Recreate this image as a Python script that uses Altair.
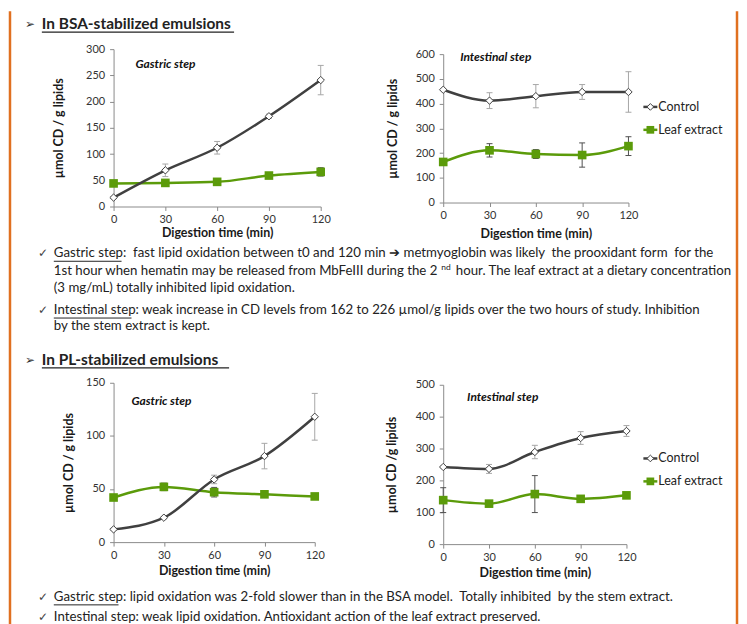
import altair as alt
import pandas as pd

# ---------------- data ----------------
time = [0, 30, 60, 90, 120]
series_names = ["Control", "Leaf extract"]

bsa_gastric_control = [17, 69, 112, 172, 241]
bsa_gastric_control_err = [2, 12, 12, 4, 28]
bsa_gastric_leaf = [44, 45, 47, 59, 66]
bsa_gastric_leaf_err = [1, 2, 2, 3, 8]

bsa_intestinal_control = [456, 412, 430, 447, 447]
bsa_intestinal_control_err = [3, 32, 47, 30, 82]
bsa_intestinal_leaf = [164, 211, 196, 192, 228]
bsa_intestinal_leaf_err = [4, 27, 18, 49, 38]

pl_gastric_control = [12, 23, 59, 81, 118]
pl_gastric_control_err = [1, 1, 4, 12, 22]
pl_gastric_leaf = [42, 52, 47, 45, 43]
pl_gastric_leaf_err = [1, 3.5, 4.5, 1, 1]

pl_intestinal_control = [242, 236, 289, 333, 355]
pl_intestinal_control_err = [3, 14, 21, 20, 17]
pl_intestinal_leaf = [138, 127, 157, 142, 153]
pl_intestinal_leaf_err = [39, 3, 58, 3, 3]

NB = "\u00a0"
header_bsa = "In BSA-stabilized emulsions"
header_pl = "In PL-stabilized emulsions"
bsa_l1 = "Gastric step: " + NB + "fast lipid oxidation between t0 and 120 min \u2794 metmyoglobin was likely " + NB + "the prooxidant form " + NB + "for the"
bsa_l2a = "1st hour when hematin may be released from MbFeIII during the 2"
bsa_l2sup = "nd"
bsa_l2b = "hour. The leaf extract at a dietary concentration"
bsa_l3 = "(3 mg/mL) totally inhibited lipid oxidation."
bsa_l4 = "Intestinal step: weak increase in CD levels from 162 to 226 \u00b5mol/g lipids over the two hours of study. Inhibition"
bsa_l5 = "by the stem extract is kept."
pl_l1 = "Gastric step: lipid oxidation was 2-fold slower than in the BSA model. " + NB + "Totally inhibited " + NB + "by the stem extract."
pl_l2 = "Intestinal step: weak lipid oxidation. Antioxidant action of the leaf extract preserved."

# ---------------- style ----------------
FONT = "Lato"
CTRL = "#404040"
LEAF = "#5b9b0a"
CTRL_ERR = "#a6a6a6"
LEAF_ERR = "#505050"
ORANGE = "#e07020"
TEXT = "#222222"
BODY = 13.3
ONE = pd.DataFrame({"a": [0]})


def panel_df(ctrl, ctrl_err, leaf, leaf_err):
    rows = []
    for name, vals, errs in [(series_names[0], ctrl, ctrl_err), (series_names[1], leaf, leaf_err)]:
        for t, v, e in zip(time, vals, errs):
            rows.append({"time": t, "series": name, "value": v, "lo": v - e, "hi": v + e})
    return pd.DataFrame(rows)


def txt(s, x, y, size=BODY, weight="normal", style="normal", color=TEXT, font=FONT, align="left"):
    return alt.Chart(ONE).mark_text(
        text=s, font=font, fontSize=size, fontWeight=weight, fontStyle=style,
        color=color, align=align, baseline="middle"
    ).encode(x=alt.value(x), y=alt.value(y))


def hline(x1, x2, y, color=TEXT, width=1):
    return alt.Chart(ONE).mark_rule(color=color, strokeWidth=width).encode(
        x=alt.value(x1), x2=alt.value(x2), y=alt.value(y))


def vline(x, y1, y2, color=ORANGE, width=2.5):
    return alt.Chart(ONE).mark_rule(color=color, strokeWidth=width).encode(
        x=alt.value(x), y=alt.value(y1), y2=alt.value(y2))


def panel(df, ymax, ystep, ytitle, step_label, step_xy, w, h, top, ytitle_x, xtitle_y, legend_xy=None):
    # plot area is h tall; the y scale occupies pixels [top, h]
    xscale = alt.Scale(domain=[0, 120], nice=False, zero=False, padding=0)
    yscale = alt.Scale(domain=[0, ymax], nice=False, range=[h, top], padding=0)
    xaxis = alt.Axis(values=time, title="Digestion time (min)", labelFlush=False, grid=False,
                     tickSize=4, labelPadding=3, titleX=w / 2, titleY=xtitle_y,
                     titleAlign="center", titleBaseline="middle", titleFontSize=12.5)
    yaxis = alt.Axis(values=list(range(0, ymax + 1, ystep)), title=ytitle, grid=False,
                     tickSize=4, labelPadding=5, titleX=ytitle_x, titleY=(h + top) / 2, titleAngle=270,
                     titleAlign="center", titleBaseline="middle", titleFontSize=12.5)
    X = alt.X("time:Q", scale=xscale, axis=xaxis)

    def Y(f):
        return alt.Y(f, scale=yscale, axis=yaxis)

    base = alt.Chart(df)
    c = base.transform_filter(alt.datum.series == series_names[0])
    l = base.transform_filter(alt.datum.series == series_names[1])
    layers = []
    for sub, col in [(c, CTRL_ERR), (l, LEAF_ERR)]:
        layers.append(sub.mark_rule(color=col, strokeWidth=1).encode(x=X, y=Y("lo:Q"), y2="hi:Q"))
        for f in ["lo:Q", "hi:Q"]:
            layers.append(sub.mark_rule(color=col, strokeWidth=1, xOffset=-3, x2Offset=3).encode(
                x=X, x2="time:Q", y=Y(f)))
    layers.append(l.mark_line(color=LEAF, strokeWidth=2.5, interpolate="monotone").encode(x=X, y=Y("value:Q")))
    layers.append(c.mark_line(color=CTRL, strokeWidth=2.5, interpolate="monotone").encode(x=X, y=Y("value:Q")))
    layers.append(l.mark_point(shape="square", filled=True, color=LEAF, size=75, opacity=1).encode(x=X, y=Y("value:Q")))
    layers.append(c.mark_point(shape="diamond", filled=True, fill="white", stroke=CTRL, strokeWidth=1,
                               size=55, opacity=1).encode(x=X, y=Y("value:Q")))
    layers.append(txt(step_label, step_xy[0], top + step_xy[1], size=12, weight="bold", style="italic", color="#111111"))
    if legend_xy is not None:
        lx, ly = legend_xy
        ly += top
        layers.append(hline(lx, lx + 14, ly, CTRL, 2.5))
        layers.append(alt.Chart(ONE).mark_point(shape="diamond", filled=True, fill="white", stroke=CTRL,
                                                strokeWidth=1, size=45, opacity=1).encode(
            x=alt.value(lx + 7), y=alt.value(ly)))
        layers.append(txt(series_names[0], lx + 15, ly, size=12.5, color=TEXT))
        layers.append(hline(lx, lx + 14, ly + 23, LEAF, 2.5))
        layers.append(alt.Chart(ONE).mark_point(shape="square", filled=True, color=LEAF, size=60,
                                                opacity=1).encode(x=alt.value(lx + 7), y=alt.value(ly + 23)))
        layers.append(txt(series_names[1], lx + 15, ly + 23, size=12.5, color=TEXT))
    return alt.layer(*layers).properties(width=w, height=h)


def sp(w, h):
    return alt.Chart(ONE).mark_text(text="").properties(width=w, height=h)


X0 = 8  # page x of the layout origin


def P(x):
    return x - X0


def text_panel(w, h, items):
    return alt.layer(*items).properties(width=w, height=h)


# Row A: header 1 + orange border   (page y 8 -> 48)
topA = 8
textA = text_panel(100, 40, [
    vline(1, 2, 640),
    vline(P(739), 2, 640),
    txt("\u27a2", P(24), 23 - topA, size=12, color="#333333", font="DejaVu Sans"),
    txt(header_bsa, P(41), 23 - topA, size=15.5, weight="bold", color=TEXT),
    hline(P(41), P(234), 31 - topA, TEXT, 1.2),
])

# Row B (page y 48 -> 206)
chart1 = panel(panel_df(bsa_gastric_control, bsa_gastric_control_err, bsa_gastric_leaf, bsa_gastric_leaf_err),
               300, 50, "\u00b5mol CD / g lipids", "Gastric step", (22, 15), 208, 158, 0, -55, 26)
chart2 = panel(panel_df(bsa_intestinal_control, bsa_intestinal_control_err, bsa_intestinal_leaf, bsa_intestinal_leaf_err),
               600, 100, "\u00b5mol CD / g lipids", "Intestinal step", (17, 3), 186, 154, 5, -51, 31,
               legend_xy=(201, 53))

# Row C (page y 206 -> 383)
topC = 206
textC = text_panel(100, 177, [
    txt("\u2713", P(37), 253 - topC, size=12, color="#444444", font="DejaVu Sans"),
    txt(bsa_l1, P(53), 253 - topC),
    hline(P(53), P(121), 261 - topC),
    txt(bsa_l2a, P(53), 271 - topC),
    txt(bsa_l2sup, P(442), 267 - topC, size=8.5),
    txt(bsa_l2b, P(733), 271 - topC, align="right"),
    txt(bsa_l3, P(53), 288 - topC),
    txt("\u2713", P(37), 310 - topC, size=12, color="#444444", font="DejaVu Sans"),
    txt(bsa_l4, P(53), 310 - topC),
    hline(P(53), P(131), 318 - topC),
    txt(bsa_l5, P(53), 326 - topC),
    txt("\u27a2", P(24), 360 - topC, size=12, color="#333333", font="DejaVu Sans"),
    txt(header_pl, P(41), 360 - topC, size=15.5, weight="bold", color=TEXT),
    hline(P(41), P(229), 368 - topC, TEXT, 1.2),
])

# Row D (page y 383 -> 545)
chart3 = panel(panel_df(pl_gastric_control, pl_gastric_control_err, pl_gastric_leaf, pl_gastric_leaf_err),
               150, 50, "\u00b5mol CD / g lipids", "Gastric step", (18, 18), 202, 160, 0, -45, 29)
chart4 = panel(panel_df(pl_intestinal_control, pl_intestinal_control_err, pl_intestinal_leaf, pl_intestinal_leaf_err),
               500, 100, "\u00b5mol CD /g lipids", "Intestinal step", (24, 12), 184, 162, 2, -52, 29,
               legend_xy=(201, 74))

# Row E (page y 545 -> )
topE = 545
textE = text_panel(105, 85, [
    txt("\u2713", P(37), 598 - topE, size=12, color="#444444", font="DejaVu Sans"),
    txt(pl_l1, P(53), 598 - topE),
    hline(P(53), P(118), 606 - topE),
    txt("\u2713", P(37), 618 - topE, size=12, color="#444444", font="DejaVu Sans"),
    txt(pl_l2, P(53), 618 - topE),
    hline(P(53), P(131), 626 - topE),
])

# 4-column flow grid; the first and third columns are gaps (widths tuned to the rendered layout)
cells = [
    textA, sp(208, 40), sp(116, 40), sp(186, 40),
    sp(100, 158), chart1, sp(116, 158), chart2,
    textC, sp(208, 177), sp(116, 177), sp(186, 177),
    sp(105, 162), chart3, sp(123, 162), chart4,
    textE, sp(202, 85), sp(123, 85), sp(184, 85),
]

chart = alt.concat(*cells, columns=4, spacing=0, bounds="flush", align="none").properties(
    padding=0, background="white"
).configure_view(stroke=None).configure_axis(
    domainColor="#8a8a8a", tickColor="#8a8a8a", labelFont=FONT, labelFontSize=11,
    labelColor="#333333", titleFont=FONT, titleFontWeight="bold", titleColor="#1a1a1a"
)

chart.save("out.html", embed_options={"renderer": "svg", "actions": False})
